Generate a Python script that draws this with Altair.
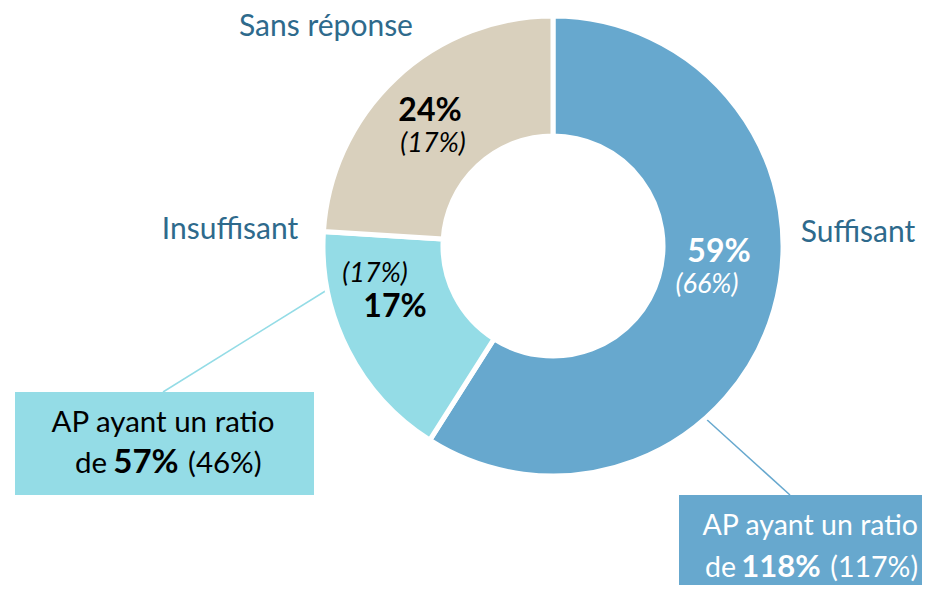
import altair as alt
import pandas as pd

# ---- data ----
categories = ["Suffisant", "Insuffisant", "Sans réponse"]
shares = [59, 17, 24]
previous = [66, 17, 17]
ratio_insuff = 57
ratio_insuff_prev = 46
ratio_suff = 118
ratio_suff_prev = 117

colors = ["#67A8CE", "#94DCE6", "#D9D0BD"]
FONT = "Lato"
LABEL_COLOR = "#2E6A8C"

W, H = 914, 577


def px(v):
    return v - 8


df = pd.DataFrame({"cat": categories, "share": shares, "order": [0, 1, 2]})

arc = alt.Chart(df).mark_arc(radius=230, radius2=110, stroke="white", strokeWidth=5).encode(
    theta=alt.Theta("share:Q", stack=True),
    color=alt.Color("cat:N", scale=alt.Scale(domain=categories, range=colors), legend=None),
    order=alt.Order("order:Q"),
    x=alt.value(px(553)),
    y=alt.value(px(246)),
)


def one(t):
    return pd.DataFrame({"t": [t]})


def text(t, x, y, size, color="black", weight="normal", style="normal", align="center"):
    return alt.Chart(one(t)).mark_text(
        font=FONT, fontSize=size, color=color, fontWeight=weight, fontStyle=style,
        align=align, baseline="alphabetic",
    ).encode(text="t:N", x=alt.value(px(x)), y=alt.value(px(y)))


def rect(x1, y1, x2, y2, color):
    return alt.Chart(one("")).mark_rect(color=color).encode(
        x=alt.value(px(x1)), x2=alt.value(px(x2)), y=alt.value(px(y1)), y2=alt.value(px(y2))
    )


def rule(x1, y1, x2, y2, color):
    return alt.Chart(one("")).mark_rule(color=color, strokeWidth=1.5).encode(
        x=alt.value(px(x1)), x2=alt.value(px(x2)), y=alt.value(px(y1)), y2=alt.value(px(y2))
    )


pct = lambda v: f"{v}%"
par = lambda v: f"({v}%)"

LBL = 30
BOX = 29.5
BOLD = 32
ITAL = 27

layers = [
    rule(327, 290, 163, 392, colors[1]),
    rule(705, 418, 790, 495, colors[0]),
    arc,
    rect(15, 392, 314, 495, colors[1]),
    rect(679, 495, 940, 600, colors[0]),
    # category labels
    text(categories[2], 326, 36, LBL, LABEL_COLOR),
    text(categories[1], 230, 239, LBL, LABEL_COLOR),
    text(categories[0], 858, 242, LBL, LABEL_COLOR),
    # slice labels
    text(pct(shares[0]), 719, 262, BOLD, "white", "bold"),
    text(par(previous[0]), 707, 293, ITAL, "white", style="italic"),
    text(pct(shares[2]), 430, 121, BOLD, "black", "bold"),
    text(par(previous[2]), 433, 152, ITAL, "black", style="italic"),
    text(par(previous[1]), 375, 282, ITAL, "black", style="italic"),
    text(pct(shares[1]), 395, 317, BOLD, "black", "bold"),
    # left callout
    text("AP ayant un ratio", 163, 432, BOX, "black"),
    text("de", 107, 473, BOX, "black", align="right"),
    text(pct(ratio_insuff), 146, 473, 33, "black", "bold"),
    text(par(ratio_insuff_prev), 188, 473, BOX, "black", align="left"),
    # right callout
    text("AP ayant un ratio", 918, 535, 28.5, "white", align="right"),
    text("de", 736, 577, 28.5, "white", align="right"),
    text(pct(ratio_suff), 781, 577, 31, "white", "bold"),
    text(par(ratio_suff_prev), 918, 577, 28.5, "white", align="right"),
]

chart = alt.layer(*layers).properties(
    width=W, height=H, autosize=alt.AutoSizeParams(type="none"), padding=0,
    background="white",
).configure_view(stroke=None)

chart.save("out.html", embed_options={"renderer": "svg", "actions": False})
